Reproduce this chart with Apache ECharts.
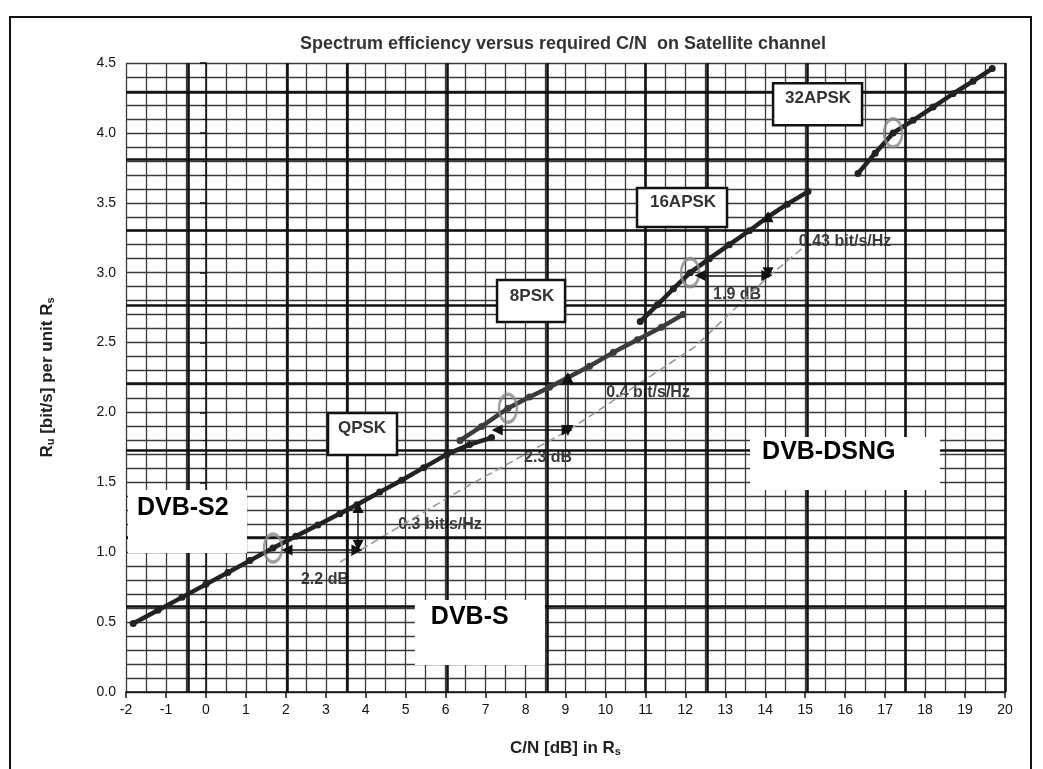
<!DOCTYPE html>
<html><head><meta charset="utf-8">
<script src="https://cdn.jsdelivr.net/npm/echarts@6/dist/echarts.min.js"></script>
<style>html,body{margin:0;padding:0;background:#fff}#c{width:1043px;height:769px}</style>
</head><body><div id="c"></div>
<script>
// ---- data ----
const xTickValues = [-2,-1,0,1,2,3,4,5,6,7,8,9,10,11,12,13,14,15,16,17,18,19,20];
const s2QPSK = [[-1.82,0.49],[-1.2,0.585],[-0.6,0.677],[0.0,0.77],[0.55,0.855],[1.1,0.94],[1.68,1.03],[2.25,1.115],[2.8,1.195],[3.35,1.275],[3.78,1.34],[4.35,1.43],[4.9,1.515],[5.45,1.605],[6.03,1.70],[6.6,1.77],[7.15,1.82]];
const s2_8PSK = [[6.36,1.80],[6.9,1.90],[7.56,2.03],[8.1,2.11],[8.6,2.18],[9.06,2.25],[9.6,2.33],[10.2,2.43],[10.8,2.52],[11.4,2.61],[11.94,2.70]];
const s2_16APSK = [[10.87,2.65],[11.3,2.77],[11.7,2.885],[12.12,3.0],[12.6,3.1],[13.1,3.2],[13.6,3.3],[14.07,3.40],[14.55,3.49],[15.07,3.58]];
const s2_32APSK = [[16.32,3.71],[16.75,3.855],[17.2,4.0],[17.7,4.09],[18.2,4.185],[18.7,4.28],[19.2,4.37],[19.68,4.46]];
const dvbS = [[3.36,0.93],[6.53,1.47],[9.06,1.87],[12.24,2.47],[13.3,2.76],[14.07,2.97],[14.95,3.18]];
const circlePoints = [[1.68,1.03],[7.56,2.03],[12.12,3.0],[17.2,4.0]];
const arrows = [
  [[2.03,1.016],[3.78,1.016]],
  [[3.81,1.32],[3.81,1.05]],
  [[7.29,1.874],[9.04,1.874]],
  [[9.06,2.25],[9.06,1.87]],
  [[12.37,2.98],[14.04,2.98]],
  [[14.07,3.40],[14.07,3.0]]
];
const deltaLabels = ['2.2 dB','0.3 bit/s/Hz','2.3 dB','0.4 bit/s/Hz','1.9 dB','0.43 bit/s/Hz'];
const deltaLabelAt = [[2.98,0.801],[5.86,1.195],[8.563,1.674],[11.067,2.139],[13.294,2.84],[15.997,3.219]];
const modLabels = ['QPSK','8PSK','16APSK','32APSK'];
const modLabelAt = [[3.056,1.996],[7.287,2.947],[10.79,3.605],[14.195,4.356]];
const sysLabels = ['DVB-S2','DVB-S','DVB-DSNG'];
const sysLabelAt = [[-1.95,1.445],[5.23,0.658],[13.62,1.824]];
// graph-paper heavy rulings (decorative)
const paperBoldX = [-0.45,2.03,3.55,6.05,8.55,11.0,12.55,15.05,17.5,20];
const paperBoldY = [4.29,3.81,3.30,2.77,2.21,1.73,1.11,0.61];

const chart = echarts.init(document.getElementById('c'));
const FONT = 'Liberation Sans, Arial, sans-serif';
const lineSeries = (name, data, color) => ({
  name, type: 'line', data, xAxisIndex: 0, yAxisIndex: 0,
  symbol: 'circle', symbolSize: 7, showSymbol: true,
  lineStyle: {color, width: 4.5}, itemStyle: {color}, z: 5, animation: false
});
const nameStyle = {fontFamily: FONT, fontSize: 17, fontWeight: 'bold', color: '#222',
  rich: {s: {fontSize: 17, fontWeight: 'bold', color: '#222'}, sub: {fontSize: 11, fontWeight: 'bold', verticalAlign: 'bottom', color: '#222'}}};
chart.setOption({
  animation: false,
  title: {text: 'Spectrum efficiency versus required C/N  on Satellite channel', left: 558, top: 30, textAlign: 'center',
    textStyle: {fontFamily: FONT, fontSize: 18, fontWeight: 'bold', color: '#333'}},
  grid: {left: 126, right: 38, top: 63, bottom: 77},
  xAxis: [
    {type: 'value', min: -2, max: 20, interval: 1,
     name: 'C/N [dB] in {s|R}{sub|s}', nameLocation: 'middle', nameGap: 48, nameTextStyle: nameStyle,
     axisLine: {lineStyle: {color: '#111', width: 1.5}},
     axisTick: {length: 6, lineStyle: {color: '#111', width: 1.5}},
     axisLabel: {fontFamily: FONT, fontSize: 14, color: '#111', margin: 11, customValues: xTickValues},
     splitLine: {show: false}},
    {type: 'value', min: -2, max: 20, interval: 0.5, show: true, position: 'top',
     axisLine: {show: false}, axisTick: {show: false}, axisLabel: {show: false},
     splitLine: {show: true, lineStyle: {color: '#3a3a3a', width: 1.3}}}
  ],
  yAxis: [
    {type: 'value', min: 0, max: 4.5, interval: 0.5,
     name: '{s|R}{sub|u} [bit/s] per unit {s|R}{sub|s}', nameLocation: 'middle', nameGap: 70, nameRotate: 90, nameTextStyle: nameStyle,
     axisLine: {show: true, lineStyle: {color: '#111', width: 1.5}},
     axisTick: {show: true, length: 6, lineStyle: {color: '#111', width: 1.5}},
     minorTick: {show: true, splitNumber: 5, length: 4, lineStyle: {color: '#111'}},
     axisLabel: {fontFamily: FONT, fontSize: 14, color: '#111', margin: 10, formatter: v => v.toFixed(1)},
     splitLine: {show: false}},
    {type: 'value', min: 0, max: 4.5, interval: 0.1, position: 'right',
     axisLine: {show: false}, axisTick: {show: false}, axisLabel: {show: false},
     splitLine: {show: true, lineStyle: {color: '#3a3a3a', width: 1.3}}}
  ],
  series: [
    {type: 'line', data: [], xAxisIndex: 1, yAxisIndex: 1, silent: true, z: 1,
     markLine: {silent: true, symbol: 'none', label: {show: false}, animation: false,
       lineStyle: {color: '#111', width: 2.6, type: 'solid'},
       data: paperBoldX.map(v => ({xAxis: v})).concat(paperBoldY.map(v => ({yAxis: v})))}},
    {name: 'DVB-S', type: 'line', data: dvbS, symbol: 'none', z: 4,
     lineStyle: {color: '#9a9a9a', width: 1.6, type: [8, 4]}},
    lineSeries('QPSK', s2QPSK, '#222'),
    lineSeries('8PSK', s2_8PSK, '#3c3c3c'),
    lineSeries('16APSK', s2_16APSK, '#222'),
    lineSeries('32APSK', s2_32APSK, '#222'),
    {type: 'scatter', data: circlePoints, symbol: 'circle', symbolSize: [18, 28], z: 6,
     itemStyle: {color: 'rgba(0,0,0,0)', borderColor: '#8a8a8a', borderWidth: 3}},
    {type: 'lines', coordinateSystem: 'cartesian2d', z: 7,
     symbol: ['triangle', 'triangle'], symbolSize: 11,
     lineStyle: {color: '#111', width: 1.5, opacity: 1},
     data: arrows.map(c => ({coords: c}))}
  ]
});

// annotations positioned through the chart's own scales
const px = p => chart.convertToPixel({gridIndex: 0}, p);
const graphics = [];
graphics.push({type: 'rect', shape: {x: 10, y: 17, width: 1021, height: 760}, style: {fill: 'none', stroke: '#111', lineWidth: 2}, z: 100});
const modSize = [[69,42],[68,42],[90,39],[89,42]];
const modTextAt = [[34,15],[35,16],[46,14],[45,15]];
modLabels.forEach((t, i) => {
  const p = px(modLabelAt[i]);
  graphics.push({type: 'group', x: p[0], y: p[1], z: 50, children: [
    {type: 'rect', shape: {x: 0, y: 0, width: modSize[i][0], height: modSize[i][1]}, style: {fill: '#fff', stroke: '#111', lineWidth: 2.5}, z: 50},
    {type: 'text', x: modTextAt[i][0], y: modTextAt[i][1], z: 51, style: {text: t, fill: '#333', font: 'bold 17px ' + FONT, textAlign: 'center', textVerticalAlign: 'middle'}}
  ]});
});
const sysSize = [[119,63],[130,65],[190,53]];
const sysText = [[9,18],[16,17],[12,15]];
sysLabels.forEach((t, i) => {
  const p = px(sysLabelAt[i]);
  graphics.push({type: 'group', x: p[0], y: p[1], z: 50, children: [
    {type: 'rect', shape: {x: 0, y: 0, width: sysSize[i][0], height: sysSize[i][1]}, style: {fill: '#fff'}, z: 50},
    {type: 'text', x: sysText[i][0], y: sysText[i][1], z: 51, style: {text: t, fill: '#000', font: 'bold 25px ' + FONT, textAlign: 'left', textVerticalAlign: 'middle'}}
  ]});
});
deltaLabels.forEach((t, i) => {
  const p = px(deltaLabelAt[i]);
  graphics.push({type: 'text', x: p[0], y: p[1], z: 3, style: {text: t, fill: '#3a3a3a', font: 'bold 16px ' + FONT, textAlign: 'center', textVerticalAlign: 'middle'}});
});
chart.setOption({graphic: graphics});
</script></body></html>
